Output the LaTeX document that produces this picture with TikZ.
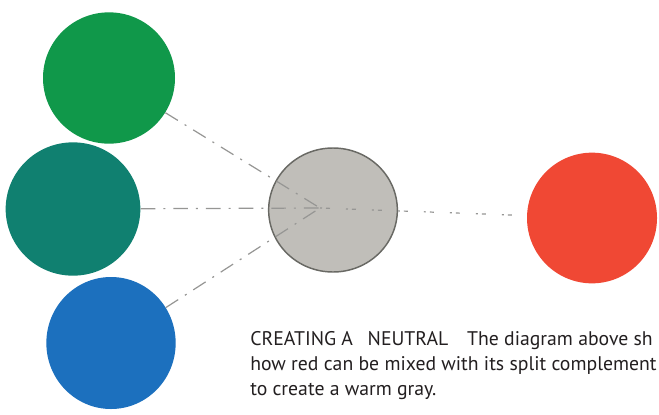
\documentclass[tikz,border=0pt]{standalone}
\usepackage{fontspec}
\setmainfont{PT Sans}
\usetikzlibrary{shapes.geometric}
\definecolor{cgreen}{RGB}{16,152,74}
\definecolor{cteal}{RGB}{16,128,112}
\definecolor{cblue}{RGB}{28,112,190}
\definecolor{cgray}{RGB}{192,190,185}
\definecolor{cgrayedge}{RGB}{105,105,100}
\definecolor{cred}{RGB}{240,72,52}
\definecolor{cline}{RGB}{150,150,148}
\definecolor{ctext}{RGB}{35,31,32}
\begin{document}
\begin{tikzpicture}[x=0.75pt,y=-0.75pt,
  paint/.style={ellipse,inner sep=0pt,draw=none},
  mixline/.style={draw=cline,line width=0.9pt,dash pattern=on 11pt off 6pt on 1.5pt off 6pt},
  dotline/.style={draw=cline,line width=0.9pt,dash pattern=on 1.5pt off 3pt on 3pt off 12pt},
  captext/.style={anchor=base west,inner sep=0pt,text=ctext,font=\fontsize{14.8}{18}\selectfont}]
\useasboundingbox (0,0) rectangle (659,414);
\clip (0,0) rectangle (659,414);
\fill[white] (0,0) rectangle (659,414);
\node[paint,fill=cgreen,minimum width=99pt,minimum height=98.5pt] (green) at (109,78) {};
\node[paint,fill=cteal,minimum width=101pt,minimum height=100pt] (teal) at (73,209) {};
\node[paint,fill=cblue,minimum width=97pt,minimum height=99pt] (blue) at (111,343) {};
\node[paint,fill=cgray,draw=cgrayedge,line width=1.1pt,minimum width=96.5pt,minimum height=93pt] (gray) at (333,210) {};
\node[paint,fill=cred,minimum width=97.5pt,minimum height=98pt] (red) at (592,218) {};
\coordinate (mix) at (320,208);
\draw[mixline] (green) -- (mix);
\draw[mixline] (teal) -- (mix);
\draw[mixline] (blue) -- (mix);
\draw[dotline] (mix) -- (red);
\node[captext] (cap1) at (250,345) {CREATING A\hspace{0.75em}NEUTRAL\hspace{0.95em}The diagram above sh};
\node[captext] (cap2) at (250,370) {how red can be mixed with its split complement};
\node[captext] (cap3) at (250,395) {to create a warm gray.};
\end{tikzpicture}
\end{document}
